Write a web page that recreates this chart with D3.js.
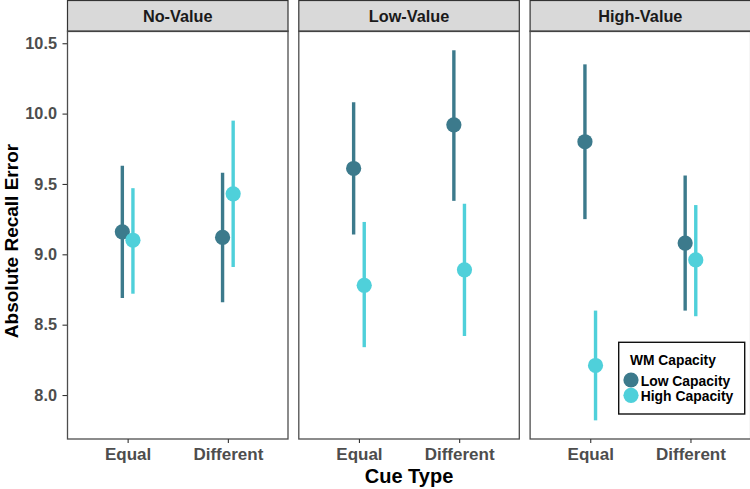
<!DOCTYPE html>
<html>
<head>
<meta charset="utf-8">
<script src="https://cdn.jsdelivr.net/npm/d3@7"></script>
<style>
  body { margin: 0; background: #fff; }
  svg { font-family: "Liberation Sans", Arial, sans-serif; }
</style>
</head>
<body>
<div id="chart"></div>
<script>
// data
const panels = ["No-Value", "Low-Value", "High-Value"];
const cueTypes = ["Equal", "Different"];
const groups = ["Low Capacity", "High Capacity"];
const yTicks = [8.0, 8.5, 9.0, 9.5, 10.0, 10.5];

// mean, lower, upper  -- per panel, per cue type
const lowMean  = [[9.16, 9.12], [9.61, 9.92], [9.80, 9.08]];
const lowLo    = [[8.69, 8.66], [9.14, 9.38], [9.25, 8.60]];
const lowHi    = [[9.63, 9.58], [10.08, 10.45], [10.35, 9.56]];
const highMean = [[9.10, 9.43], [8.78, 8.89], [8.21, 8.96]];
const highLo   = [[8.72, 8.91], [8.34, 8.42], [7.82, 8.56]];
const highHi   = [[9.47, 9.95], [9.23, 9.36], [8.60, 9.35]];

const colors = d3.scaleOrdinal().domain(groups).range(["#3c7a8c", "#4fd0da"]);

const rows = [];
panels.forEach((p, pi) => {
    cueTypes.forEach((c, ci) => {
        rows.push({ panel: p, cue: c, group: groups[0], mean: lowMean[pi][ci], lo: lowLo[pi][ci], hi: lowHi[pi][ci] });
        rows.push({ panel: p, cue: c, group: groups[1], mean: highMean[pi][ci], lo: highLo[pi][ci], hi: highHi[pi][ci] });
    });
});

const W = 750, H = 489;
const plotTop = 31, plotBottom = 439, stripH = 31;
const panelLeft = 67.5, panelW = 220.5, gap = 10.8;

const svg = d3.select("#chart").append("svg")
    .attr("width", W)
    .attr("height", H);

const y = d3.scaleLinear()
    .domain([7.6875, 10.587])
    .range([plotBottom, plotTop]);

const x0 = d3.scaleBand()
    .domain(panels)
    .range([panelLeft, panelLeft + 3 * panelW + 2 * gap])
    .paddingInner(gap / (panelW + gap));

// discrete axis: 2 cats with 0.6 expansion each side
const x1 = d3.scalePoint()
    .domain(cueTypes)
    .range([panelW * 0.6 / 2.2, panelW * 1.6 / 2.2]);

const dodge = d3.scalePoint()
    .domain(groups)
    .range([-5.3, 5.3]);

// y axis
const yAxis = svg.append("g")
    .attr("transform", `translate(${panelLeft},0)`)
    .call(d3.axisLeft(y).tickValues(yTicks).tickFormat(d3.format(".1f")).tickSize(5).tickPadding(5.5));
yAxis.select(".domain").remove();
yAxis.selectAll("line").attr("stroke", "#333").attr("stroke-width", 1.1);
yAxis.selectAll("text")
    .attr("fill", "#4d4d4d")
    .style("font-size", "16.3px")
    .style("font-weight", "bold");

panels.forEach((p, pi) => {
    const g = svg.append("g").attr("transform", `translate(${x0(p)},0)`);

    // strip
    g.append("rect")
        .attr("x", 0).attr("y", 0.5)
        .attr("width", x0.bandwidth()).attr("height", stripH)
        .attr("fill", "#d9d9d9")
        .attr("stroke", "#333").attr("stroke-width", 1.2);
    g.append("text")
        .attr("x", x0.bandwidth() / 2)
        .attr("y", 22)
        .attr("text-anchor", "middle")
        .style("font-size", "16.3px")
        .style("font-weight", "bold")
        .attr("fill", "#1a1a1a")
        .text(p);

    // panel border
    g.append("rect")
        .attr("x", 0).attr("y", plotTop)
        .attr("width", x0.bandwidth()).attr("height", plotBottom - plotTop)
        .attr("fill", "none")
        .attr("stroke", "#4d4d4d").attr("stroke-width", 1.3);

    // x axis
    const xa = g.append("g")
        .attr("transform", `translate(0,${plotBottom})`)
        .call(d3.axisBottom(x1).tickSize(4).tickPadding(5.4));
    xa.select(".domain").remove();
    xa.selectAll("line").attr("stroke", "#333").attr("stroke-width", 1.1);
    xa.selectAll("text")
        .attr("fill", "#4d4d4d")
        .style("font-size", "17px")
        .style("font-weight", "bold");

    const data = rows.filter(d => d.panel === p);

    g.selectAll(".err")
        .data(data)
        .enter().append("line")
        .attr("class", "err")
        .attr("x1", d => x1(d.cue) + dodge(d.group))
        .attr("x2", d => x1(d.cue) + dodge(d.group))
        .attr("y1", d => y(d.lo))
        .attr("y2", d => y(d.hi))
        .attr("stroke", d => colors(d.group))
        .attr("stroke-width", 3.4);

    g.selectAll(".pt")
        .data(data)
        .enter().append("circle")
        .attr("class", "pt")
        .attr("cx", d => x1(d.cue) + dodge(d.group))
        .attr("cy", d => y(d.mean))
        .attr("r", 7.6)
        .attr("fill", d => colors(d.group));
});

// axis titles
svg.append("text")
    .attr("transform", `translate(17.5,241) rotate(-90)`)
    .attr("text-anchor", "middle")
    .style("font-size", "19px")
    .style("font-weight", "bold")
    .text("Absolute Recall Error");

svg.append("text")
    .attr("x", x0("Low-Value") + x0.bandwidth() / 2)
    .attr("y", 482.5)
    .attr("text-anchor", "middle")
    .style("font-size", "20px")
    .style("font-weight", "bold")
    .text("Cue Type");

// legend
const legend = svg.append("g").attr("transform", "translate(618.7,342.3)");
legend.append("rect")
    .attr("width", 126).attr("height", 71.7)
    .attr("fill", "#fff")
    .attr("stroke", "#111").attr("stroke-width", 1.4);
legend.append("text")
    .attr("x", 11.3).attr("y", 22.7)
    .style("font-size", "13.8px")
    .style("font-weight", "bold")
    .text("WM Capacity");

const items = legend.selectAll(".item")
    .data(groups)
    .enter().append("g")
    .attr("class", "item")
    .attr("transform", (d, i) => `translate(0,${37.7 + i * 15.3})`);
items.append("circle")
    .attr("cx", 12.3).attr("cy", 0)
    .attr("r", 7.6)
    .attr("fill", colors);
items.append("text")
    .attr("x", 22).attr("y", 5.5)
    .style("font-size", "13.9px")
    .style("font-weight", "bold")
    .text(d => d);
</script>
</body>
</html>
